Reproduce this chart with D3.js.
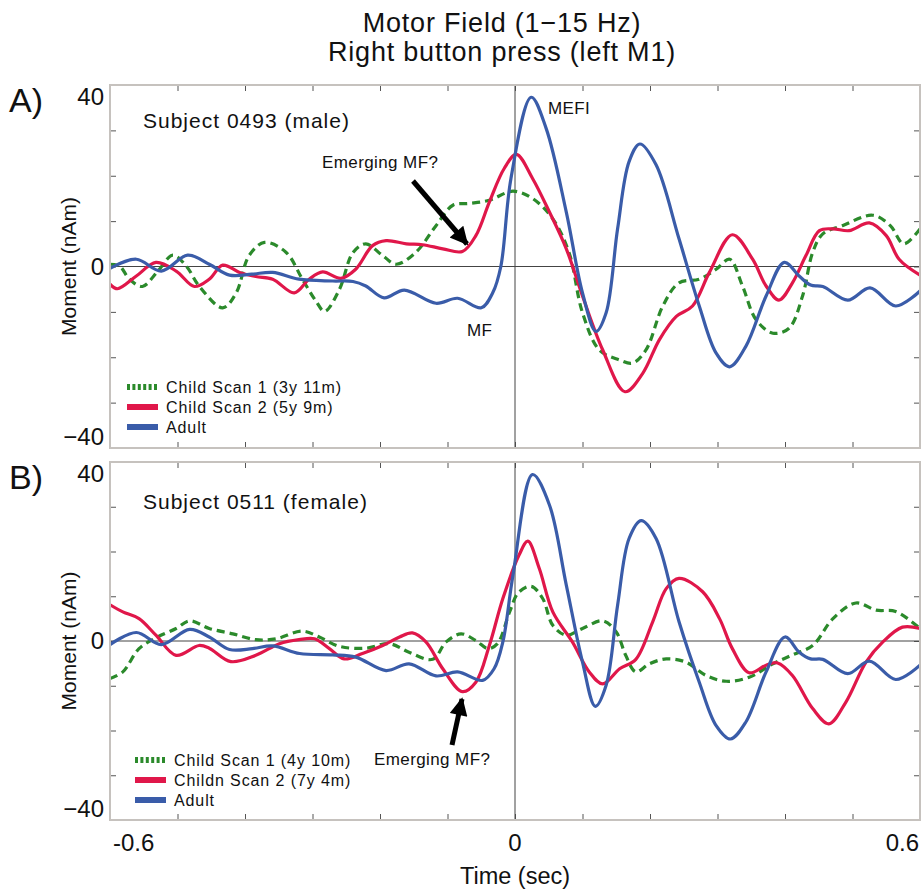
<!DOCTYPE html>
<html>
<head>
<meta charset="utf-8">
<script src="https://cdn.jsdelivr.net/npm/d3@7"></script>
<style>
  body { margin: 0; background: #fff; }
  text { font-family: "Liberation Sans", Arial, sans-serif; fill: #111; }
</style>
</head>
<body>
<div id="chart"></div>
<script>
// time in seconds, moment in nAm
const aChild1 = [[-0.6,0.5],[-0.586,0.1],[-0.571,-2.8],[-0.552,-4.4],[-0.529,-1],[-0.507,2.5],[-0.487,0.1],[-0.468,-4.3],[-0.433,-9.1],[-0.413,-5.8],[-0.394,2.4],[-0.371,5.3],[-0.339,3.1],[-0.315,-2.8],[-0.295,-7.6],[-0.282,-9.9],[-0.26,-5],[-0.24,3.1],[-0.221,5],[-0.196,2.4],[-0.176,0.5],[-0.147,3.1],[-0.117,9],[-0.092,13.5],[-0.068,13.9],[-0.038,14.6],[-0.003,16.6],[0.026,15],[0.056,10.5],[0.08,3.1],[0.1,-10.2],[0.125,-18.4],[0.155,-20.6],[0.174,-21.3],[0.194,-18.4],[0.219,-8.7],[0.243,-3.6],[0.273,-2.8],[0.298,-0.6],[0.318,1.6],[0.337,-4.3],[0.357,-11.7],[0.382,-14.7],[0.406,-13.6],[0.426,-6.5],[0.441,3.1],[0.456,7.2],[0.485,9],[0.53,11.3],[0.556,9],[0.576,5],[0.6,8.3]];
const aChild2 = [[-0.6,-3.9],[-0.589,-4.9],[-0.561,-2.1],[-0.532,0.9],[-0.502,-1],[-0.475,-4.4],[-0.453,-2.8],[-0.433,0.3],[-0.408,-1.3],[-0.384,-2.2],[-0.359,-2.8],[-0.327,-5.8],[-0.305,-2.8],[-0.285,-1.2],[-0.258,-2.6],[-0.236,-0.6],[-0.211,4.6],[-0.191,5.7],[-0.161,5],[-0.137,4.8],[-0.107,3.9],[-0.078,3.3],[-0.058,6.8],[-0.038,14.2],[-0.016,21.6],[0.002,24.7],[0.026,19.4],[0.051,12],[0.076,3.9],[0.1,-6.5],[0.13,-18.4],[0.163,-27.6],[0.189,-23.6],[0.214,-16.1],[0.239,-11],[0.263,-8.7],[0.288,-1.3],[0.322,7],[0.352,1.6],[0.372,-4.3],[0.391,-7.4],[0.411,-3.6],[0.431,2.4],[0.451,7.9],[0.471,8.3],[0.495,7.9],[0.525,9.6],[0.55,6.8],[0.569,1.6],[0.6,-1.9]];
const aAdult = [[-0.6,-0.4],[-0.561,1.6],[-0.524,-1],[-0.485,2.5],[-0.453,0.5],[-0.423,-1.9],[-0.39,-1.7],[-0.359,-1.3],[-0.32,-2.8],[-0.27,-3.2],[-0.24,-3.3],[-0.221,-4.3],[-0.194,-6.9],[-0.164,-5.2],[-0.117,-8.1],[-0.085,-7],[-0.05,-9.1],[-0.033,-5.8],[-0.021,0],[-0.006,19.4],[0.024,37.3],[0.046,30.5],[0.076,12],[0.1,-5.8],[0.12,-14.3],[0.135,-10.2],[0.152,8.3],[0.169,23.1],[0.185,27],[0.209,22.4],[0.243,6.1],[0.273,-8.7],[0.298,-19.1],[0.318,-22.1],[0.342,-17.6],[0.372,-6.5],[0.399,0.9],[0.421,-2.1],[0.438,-4.1],[0.456,-4.4],[0.493,-7.4],[0.526,-4.7],[0.564,-8.7],[0.6,-5.4]];

const bChild1 = [[-0.6,-8.4],[-0.581,-6.9],[-0.557,-1.7],[-0.532,0.7],[-0.502,2.8],[-0.482,4.5],[-0.453,2.8],[-0.418,1.6],[-0.384,0.3],[-0.354,0.5],[-0.315,2.2],[-0.29,0.9],[-0.26,-1.2],[-0.221,-1.6],[-0.186,-0.6],[-0.157,-2.5],[-0.122,-4.1],[-0.102,-0.2],[-0.08,1.6],[-0.058,0.1],[-0.04,-1.7],[-0.026,-0.6],[-0.008,6.5],[0.005,10.8],[0.024,12.2],[0.041,9.5],[0.056,3.5],[0.076,1.3],[0.1,2.8],[0.13,4.5],[0.15,2],[0.164,-3.2],[0.179,-6.9],[0.199,-5.1],[0.224,-4],[0.253,-4.7],[0.283,-7.7],[0.313,-9],[0.347,-8.1],[0.382,-5.1],[0.411,-3.1],[0.441,-1],[0.471,5],[0.505,8.5],[0.535,6.9],[0.564,6.6],[0.6,2.8]];
const bChild2 = [[-0.6,8.1],[-0.581,6.5],[-0.557,5],[-0.532,1.3],[-0.502,-3.2],[-0.468,-1],[-0.453,-1.6],[-0.421,-4.6],[-0.384,-3.2],[-0.349,-0.6],[-0.32,0.3],[-0.297,0.5],[-0.275,-1.7],[-0.253,-4],[-0.226,-2.8],[-0.196,-1],[-0.171,0.9],[-0.152,1.8],[-0.132,-0.2],[-0.107,-6.2],[-0.078,-11.3],[-0.058,-9.2],[-0.038,-1],[-0.018,9.5],[0.006,19.2],[0.019,22.3],[0.036,16.2],[0.056,6.5],[0.085,-0.2],[0.11,-6.9],[0.13,-9.6],[0.155,-6.2],[0.179,-4.1],[0.204,4.3],[0.224,11.7],[0.243,14],[0.278,11],[0.303,5],[0.322,-1.7],[0.347,-7.1],[0.372,-5.4],[0.389,-4.9],[0.411,-7.7],[0.441,-15.1],[0.465,-18.5],[0.49,-13.7],[0.52,-4.7],[0.545,-0.2],[0.574,3.1],[0.6,2.8]];
const bAdult = [[-0.6,-0.8],[-0.561,1.9],[-0.524,-0.8],[-0.482,2.6],[-0.453,0.9],[-0.423,-1.9],[-0.389,-1.7],[-0.359,-1.1],[-0.319,-2.8],[-0.27,-3.1],[-0.236,-3.6],[-0.191,-6.6],[-0.157,-5.1],[-0.117,-7.8],[-0.085,-6.9],[-0.048,-8.8],[-0.031,-6.2],[-0.018,-0.2],[-0.003,14.7],[0.026,37.2],[0.051,30.4],[0.076,12.5],[0.1,-4.7],[0.119,-14.6],[0.135,-9.9],[0.152,8],[0.169,22.9],[0.187,26.9],[0.209,22.9],[0.243,4.3],[0.273,-9.2],[0.298,-18.9],[0.319,-21.9],[0.342,-18.1],[0.372,-6.9],[0.4,0.9],[0.421,-2.5],[0.438,-4],[0.456,-4.1],[0.493,-7.3],[0.525,-4.5],[0.564,-8.6],[0.6,-5.4]];

const legendA = ["Child Scan 1 (3y 11m)", "Child Scan 2 (5y 9m)", "Adult"];
const legendB = ["Child Scan 1 (4y 10m)", "Childn Scan 2 (7y 4m)", "Adult"];
const xTicks = d3.range(-0.6, 0.61, 0.1);
const yTicks = d3.range(-40, 41, 10);
const xTickLabels = [[-0.6, "-0.6"], [0, "0"], [0.6, "0.6"]];
const yTickLabels = [40, 0, -40];

const colors = { child1: "#2b8a2b", child2: "#e0174a", adult: "#3a5ca9" };

const W = 923, H = 893;
const svg = d3.select("#chart").append("svg")
  .attr("width", W)
  .attr("height", H);

const x = d3.scaleLinear().domain([-0.6, 0.6]).range([110, 920]);

svg.append("text")
  .attr("x", 502).attr("y", 32)
  .attr("text-anchor", "middle")
  .style("font-size", "27px")
  .style("letter-spacing", "0.8px")
  .text("Motor Field (1\u221215 Hz)");
svg.append("text")
  .attr("x", 502).attr("y", 61)
  .attr("text-anchor", "middle")
  .style("font-size", "27px")
  .style("letter-spacing", "0.8px")
  .text("Right button press (left M1)");

const panels = [
  { tag: "A)", top: 85, bottom: 448, subject: "Subject 0493 (male)",
    series: [aChild1, aChild2, aAdult], legend: legendA, legX: 127, legY: 387, legTextX: 166 },
  { tag: "B)", top: 462, bottom: 820, subject: "Subject 0511 (female)",
    series: [bChild1, bChild2, bAdult], legend: legendB, legX: 135, legY: 760, legTextX: 174 }
];

const keys = ["child1", "child2", "adult"];

panels.forEach((p, i) => {
  const y = d3.scaleLinear().domain([-40, 40]).range([p.bottom, p.top]);
  const g = svg.append("g");

  g.append("clipPath").attr("id", "clip" + i)
    .append("rect")
    .attr("x", 110).attr("y", p.top)
    .attr("width", 810).attr("height", p.bottom - p.top);

  // inner ticks on all four sides
  const tickSides = [
    [d3.axisLeft(y).tickValues(yTicks), `translate(110,0)`],
    [d3.axisRight(y).tickValues(yTicks), `translate(920,0)`],
    [d3.axisTop(x).tickValues(xTicks), `translate(0,${p.top})`],
    [d3.axisBottom(x).tickValues(xTicks), `translate(0,${p.bottom})`]
  ];
  tickSides.forEach(([ax, tr]) => {
    const a = g.append("g")
      .attr("transform", tr)
      .call(ax.tickSize(-6).tickFormat(""));
    a.select(".domain").remove();
    a.selectAll("line").attr("stroke", "#555");
  });

  // zero lines
  g.append("line")
    .attr("x1", 110).attr("x2", 920)
    .attr("y1", y(0)).attr("y2", y(0))
    .attr("stroke", "#444").attr("stroke-width", 1);
  g.append("line")
    .attr("x1", x(0)).attr("x2", x(0))
    .attr("y1", p.top).attr("y2", p.bottom)
    .attr("stroke", "#444").attr("stroke-width", 1);

  const line = d3.line()
    .x(d => x(d[0]))
    .y(d => y(d[1]))
    .curve(d3.curveCatmullRom.alpha(0.5));

  const traces = g.append("g").attr("clip-path", `url(#clip${i})`);
  p.series.forEach((s, k) => {
    traces.append("path")
      .datum(s)
      .attr("fill", "none")
      .attr("stroke", colors[keys[k]])
      .attr("stroke-width", 3.2)
      .attr("stroke-dasharray", k === 0 ? "8,5" : null)
      .attr("d", line);
  });

  // frame
  g.append("rect")
    .attr("x", 110).attr("y", p.top)
    .attr("width", 810).attr("height", p.bottom - p.top)
    .attr("fill", "none")
    .attr("stroke", "#c6c2be")
    .attr("stroke-width", 2);

  // y tick labels
  yTickLabels.forEach(v => {
    const off = v === 40 ? 12 : v === -40 ? -11 : 0;
    g.append("text")
      .attr("x", 104).attr("y", y(v) + off)
      .attr("dy", "0.35em")
      .attr("text-anchor", "end")
      .style("font-size", "24px")
      .text(v < 0 ? "\u2212" + Math.abs(v) : v);
  });

  g.append("text")
    .attr("transform", `translate(76,${(p.top + p.bottom) / 2}) rotate(-90)`)
    .attr("text-anchor", "middle")
    .style("font-size", "21px")
    .text("Moment (nAm)");

  g.append("text")
    .attr("x", 9).attr("y", p.top + 27)
    .style("font-size", "34px")
    .text(p.tag);

  g.append("text")
    .attr("x", 143).attr("y", p.top + (i === 0 ? 43 : 47))
    .style("font-size", "21px")
    .style("letter-spacing", "1px")
    .text(p.subject);

  // legend
  p.legend.forEach((name, k) => {
    const ly = p.legY + k * 20;
    g.append("line")
      .attr("x1", p.legX).attr("x2", p.legX + 31)
      .attr("y1", ly).attr("y2", ly)
      .attr("stroke", colors[keys[k]])
      .attr("stroke-width", 6)
      .attr("stroke-dasharray", k === 0 ? "3,2.4" : null);
    g.append("text")
      .attr("x", p.legTextX).attr("y", ly)
      .attr("dy", "0.35em")
      .style("font-size", "16px")
      .style("letter-spacing", "0.9px")
      .text(name);
  });
});

// x tick labels (bottom panel only)
xTickLabels.forEach(([v, s]) => {
  const anchor = v < 0 ? "start" : v > 0 ? "end" : "middle";
  svg.append("text")
    .attr("x", x(v) + (v < 0 ? 3 : v > 0 ? -1 : 0))
    .attr("y", 851)
    .attr("text-anchor", anchor)
    .style("font-size", "24px")
    .text(s);
});
svg.append("text")
  .attr("x", x(0)).attr("y", 884)
  .attr("text-anchor", "middle")
  .style("font-size", "23.5px")
  .text("Time (sec)");

// annotations
svg.append("defs").append("marker")
  .attr("id", "head")
  .attr("viewBox", "0 0 10 10")
  .attr("refX", 9).attr("refY", 5)
  .attr("markerUnits", "userSpaceOnUse")
  .attr("markerWidth", 20).attr("markerHeight", 18)
  .attr("orient", "auto")
  .append("path")
  .attr("d", "M0,0 L10,5 L0,10 Z")
  .attr("fill", "#000");

const arrows = [[413, 181, 467, 244], [452, 745, 462, 699]];
arrows.forEach(([x1, y1, x2, y2]) => {
  svg.append("line")
    .attr("x1", x1).attr("y1", y1)
    .attr("x2", x2).attr("y2", y2)
    .attr("stroke", "#000")
    .attr("stroke-width", 5)
    .attr("marker-end", "url(#head)");
});

const notes = [
  ["Emerging MF?", 322, 168],
  ["MF", 467, 336],
  ["MEFI", 548, 114],
  ["Emerging MF?", 374, 765]
];
notes.forEach(([s, nx, ny]) => {
  svg.append("text")
    .attr("x", nx).attr("y", ny)
    .style("font-size", "17px")
    .style("letter-spacing", "0.4px")
    .text(s);
});
</script>
</body>
</html>
